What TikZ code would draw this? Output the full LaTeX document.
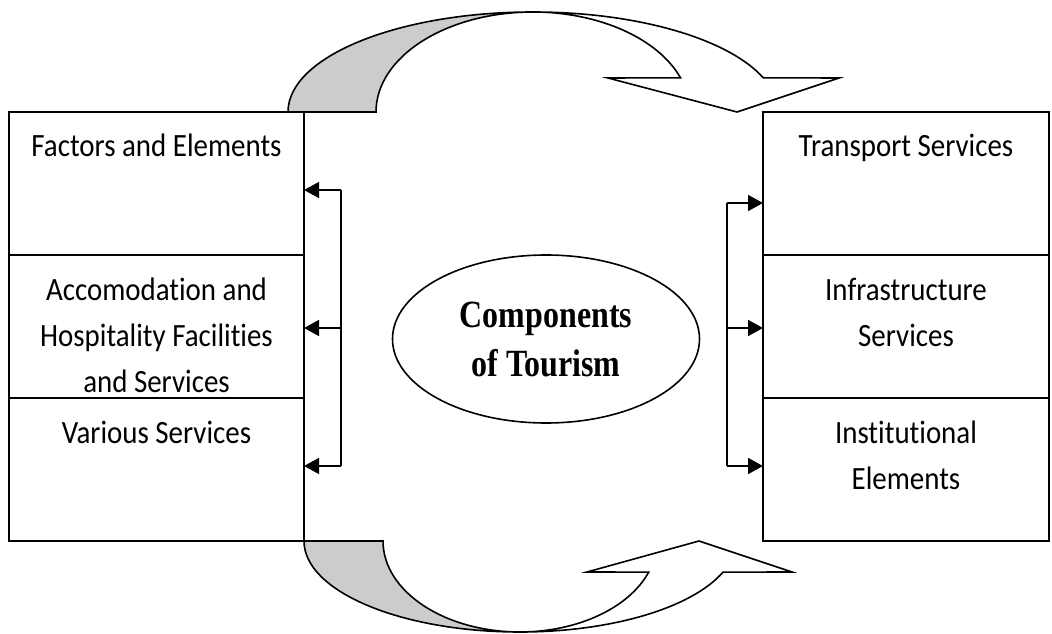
\documentclass[tikz,border=0pt]{standalone}
\usepackage{fontspec}
\setmainfont{Carlito}[FakeStretch=0.89, Ligatures=NoCommon]
\newfontfamily\timesfont{Liberation Serif}[FakeStretch=0.83]
\usetikzlibrary{positioning,shapes.geometric,arrows.meta}

\begin{document}
\begin{tikzpicture}[x=1pt, y=1pt, line width=1.6pt,
	box/.style={draw, rectangle, align=flush center, text width=275pt,
		inner xsep=10pt, inner ysep=0pt, outer sep=0pt,
		text height=45pt, text depth=98pt,
		font=\fontsize{32.5}{46}\selectfont},
	hub/.style={draw, ellipse, align=center, inner sep=0pt,
		minimum width=307pt, minimum height=168pt,
		font={\timesfont\bfseries\fontsize{38.5}{49}\selectfont}},
	>={Triangle[length=15pt, width=16pt]}]
	\useasboundingbox (0,0) rectangle (1052,633);
	% left column
	\node[box, anchor=north west] (fac) at (9,521) {Factors and Elements};
	\node[box, below=0pt of fac] (acc) {Accomodation and\\Hospitality Facilities\\and Services};
	\node[box, below=0pt of acc] (var) {Various Services};
	% right column
	\node[box, text width=266pt, anchor=north west] (tra) at (763,521) {Transport Services};
	\node[box, text width=266pt, below=0pt of tra] (inf) {Infrastructure\\Services};
	\node[box, text width=266pt, below=0pt of inf] (ins) {Institutional\\Elements};
	% centre
	\node[hub] (comp) at (546,294) {Components\\of Tourism};
	% brackets
	\coordinate (lt) at (341,443);
	\coordinate (lb) at (341,167);
	\coordinate (rt) at (727,430);
	\coordinate (rb) at (727,167);
	\draw (lt) -- (lb);
	\draw (rt) -- (rb);
	\path[->]
	(lt) edge (lt -| fac.east)
	(lt |- 0,305) edge (acc.east |- 0,305)
	(lb) edge (lb -| var.east)
	(rt) edge (rt -| tra.west)
	(rt |- 0,305) edge (inf.west |- 0,305)
	(rb) edge (rb -| ins.west);
	% curved arrow, top
	\filldraw[fill=black!20] (288,521)
		arc[start angle=180, end angle=90, x radius=245pt, y radius=100pt]
		arc[start angle=90, end angle=180, x radius=157pt, y radius=100pt] -- cycle;
	\filldraw[fill=white] (533,621)
		arc[start angle=90, end angle=20, x radius=245pt, y radius=100pt]
		-- (839,555) -- (737,521) -- (608,555) -- (680.5,555.2)
		arc[start angle=20, end angle=90, x radius=157pt, y radius=100pt] -- cycle;
	% curved arrow, bottom
	\filldraw[fill=black!20] (304,92)
		arc[start angle=180, end angle=270, x radius=216pt, y radius=91pt]
		arc[start angle=270, end angle=180, x radius=137pt, y radius=91pt] -- cycle;
	\filldraw[fill=white] (520,1)
		arc[start angle=270, end angle=340, x radius=216pt, y radius=91pt]
		-- (792,61) -- (699,92) -- (587,61) -- (648.7,60.9)
		arc[start angle=340, end angle=270, x radius=137pt, y radius=91pt] -- cycle;
\end{tikzpicture}
\end{document}
